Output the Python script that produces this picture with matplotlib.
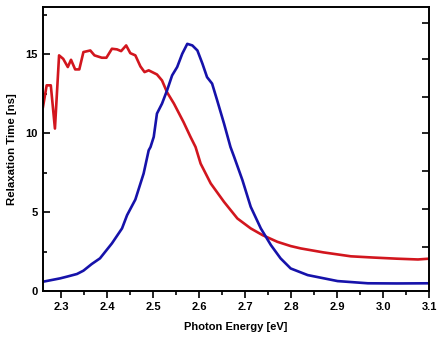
import matplotlib
matplotlib.use("Agg")
import matplotlib.pyplot as plt
from matplotlib.ticker import MultipleLocator, FixedLocator, NullFormatter

# red curve
red_x = [2.260, 2.268, 2.277, 2.286, 2.295, 2.304, 2.314, 2.321, 2.330, 2.339,
         2.348, 2.363, 2.372, 2.388, 2.398, 2.410, 2.421, 2.430, 2.441, 2.450,
         2.461, 2.472, 2.481, 2.490, 2.508, 2.519, 2.530, 2.545, 2.566, 2.581,
         2.592, 2.603, 2.625, 2.654, 2.683, 2.712, 2.738, 2.770, 2.799, 2.821,
         2.870, 2.930, 2.980, 3.030, 3.076, 3.100]
red_y = [11.67, 13.04, 13.04, 10.30, 14.94, 14.72, 14.20, 14.66, 14.05, 14.05,
         15.15, 15.25, 14.94, 14.79, 14.79, 15.36, 15.32, 15.21, 15.57, 15.08,
         14.94, 14.24, 13.88, 13.99, 13.73, 13.35, 12.60, 11.88, 10.70, 9.77,
         9.13, 8.08, 6.82, 5.65, 4.60, 3.97, 3.54, 3.12, 2.85, 2.70,
         2.45, 2.20, 2.12, 2.05, 2.00, 2.05]

# blue curve
blue_x = [2.260, 2.297, 2.312, 2.334, 2.348, 2.366, 2.384, 2.410, 2.432, 2.443,
          2.461, 2.479, 2.490, 2.494, 2.501, 2.508, 2.519, 2.530, 2.541, 2.552,
          2.563, 2.574, 2.585, 2.596, 2.607, 2.617, 2.628, 2.639, 2.654, 2.668,
          2.676, 2.694, 2.712, 2.734, 2.756, 2.777, 2.799, 2.836, 2.901, 2.967,
          3.030, 3.100]
blue_y = [0.59, 0.80, 0.91, 1.08, 1.29, 1.71, 2.07, 3.02, 3.97, 4.81,
          5.80, 7.45, 8.92, 9.13, 9.77, 11.25, 11.88, 12.72, 13.67, 14.20,
          15.04, 15.67, 15.57, 15.25, 14.41, 13.56, 13.15, 12.09, 10.61, 9.13,
          8.50, 7.03, 5.34, 3.97, 2.91, 2.07, 1.43, 1.01, 0.63, 0.49,
          0.48, 0.49]

right_ticks = [2.8, 5.2, 7.6, 10.0, 12.3, 14.7, 17.0]

plt.rcParams['font.family'] = ['Liberation Sans', 'DejaVu Sans']
plt.rcParams['font.weight'] = 'bold'

fig = plt.figure(figsize=(4.4, 3.38), dpi=100)
ax = fig.add_axes([0.0977, 0.139, 0.8773, 0.840])

ax.plot(red_x, red_y, color='#d2161e', lw=1.9)
ax.plot(blue_x, blue_y, color='#1612aa', lw=1.9)

ax.set_xlim(2.26, 3.1)
ax.set_ylim(0, 18)

ax.xaxis.set_major_locator(MultipleLocator(0.1))
ax.xaxis.set_minor_locator(MultipleLocator(0.05))
ax.yaxis.set_major_locator(FixedLocator([0, 5, 10, 15]))
ax.yaxis.set_minor_locator(FixedLocator([2.5, 7.5, 12.5, 17.5]))
ax.xaxis.set_major_formatter(plt.FuncFormatter(lambda v, p: f"{v:.1f}"))

ax.tick_params(axis='x', which='major', direction='out', length=5, width=1.2, labelsize=8, pad=3)
ax.tick_params(axis='x', which='minor', direction='out', length=3, width=1.2)
ax.tick_params(axis='y', which='major', direction='in', length=5, width=1.2, labelsize=8, pad=4)
ax.tick_params(axis='y', which='minor', direction='in', length=3, width=1.2)

# right side ticks, no labels
ax2 = ax.twinx()
ax2.set_ylim(0, 18)
ax2.yaxis.set_major_locator(FixedLocator(right_ticks))
ax2.yaxis.set_major_formatter(NullFormatter())
ax2.tick_params(axis='y', direction='in', length=5, width=1.2)

for a in (ax, ax2):
    for s in a.spines.values():
        s.set_linewidth(1.2)

ax.set_xlabel('Photon Energy [eV]', fontsize=8, fontweight='bold', labelpad=7)
ax.set_ylabel('Relaxation Time [ns]', fontsize=8.2, fontweight='bold', labelpad=6)

fig.savefig('out.png', dpi=100)
